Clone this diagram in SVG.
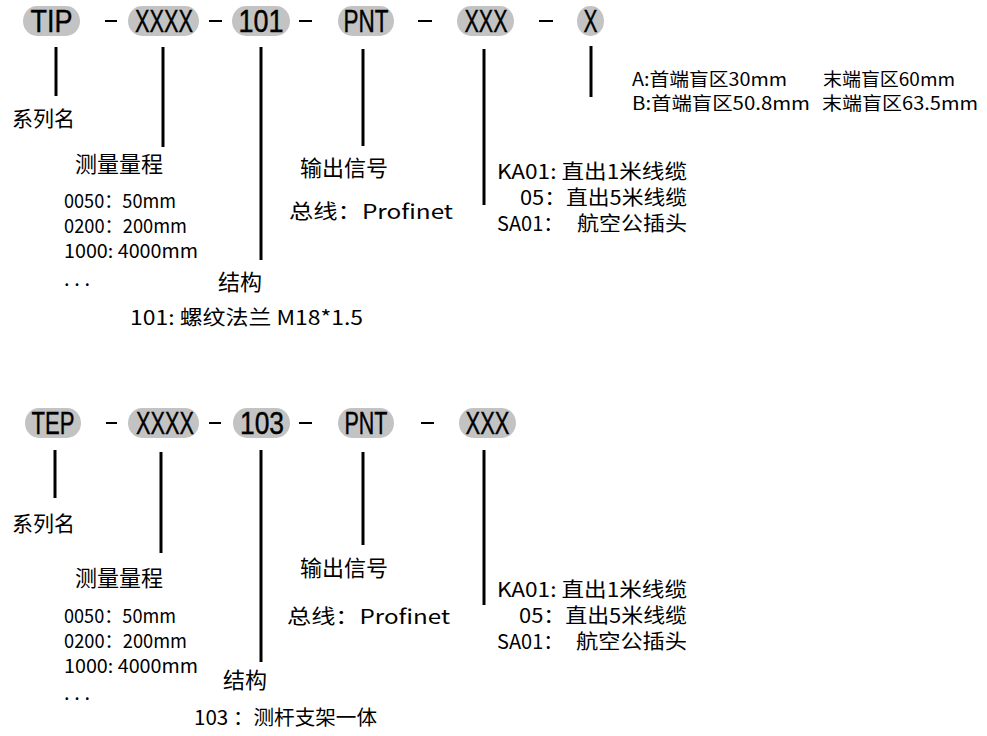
<svg xmlns="http://www.w3.org/2000/svg" width="987" height="736" viewBox="0 0 987 736">
<style>
.pill{fill:#c3c3c3}
.pt{font-family:"Liberation Sans",Arial,sans-serif;font-size:31px;fill:#000;stroke:#000;stroke-width:0.4;text-anchor:middle}
.dash{stroke:#000;stroke-width:2}
.ln{stroke:#000;stroke-width:3;fill:none}
.t{font-family:"Noto Sans CJK SC","Noto Sans",sans-serif;font-size:20px;fill:#000}
.h{font-size:22px}
.s{font-size:19px}
.ab{font-size:18px}
</style>
<rect width="987" height="736" fill="#fff"/>
<g id="top-code">
  <g id="n-tip"><rect class="pill" x="23" y="6" width="57" height="30" rx="14" ry="15"/><text class="pt" x="51.5" y="32" textLength="42" lengthAdjust="spacingAndGlyphs">TIP</text></g>
  <line class="dash" x1="105" y1="21" x2="117" y2="21"/>
  <g id="n-xxxx1"><rect class="pill" x="128" y="6" width="71" height="30" rx="14" ry="15"/><text class="pt" x="164" y="32" textLength="58" lengthAdjust="spacingAndGlyphs">XXXX</text></g>
  <line class="dash" x1="209" y1="21" x2="222" y2="21"/>
  <g id="n-101"><rect class="pill" x="232" y="6" width="58" height="30" rx="14" ry="15"/><text class="pt" x="261" y="32" textLength="45" lengthAdjust="spacingAndGlyphs">101</text></g>
  <line class="dash" x1="299" y1="21" x2="312" y2="21"/>
  <g id="n-pnt1"><rect class="pill" x="338" y="6" width="56" height="30" rx="14" ry="15"/><text class="pt" x="366" y="32" textLength="45" lengthAdjust="spacingAndGlyphs">PNT</text></g>
  <line class="dash" x1="418" y1="21" x2="432" y2="21"/>
  <g id="n-xxx1"><rect class="pill" x="457" y="6" width="57" height="30" rx="14" ry="15"/><text class="pt" x="486" y="32" textLength="43" lengthAdjust="spacingAndGlyphs">XXX</text></g>
  <line class="dash" x1="539" y1="21" x2="553" y2="21"/>
  <g id="n-x"><rect class="pill" x="577" y="6" width="27" height="30" rx="13" ry="15"/><text class="pt" x="590.5" y="32" textLength="14" lengthAdjust="spacingAndGlyphs">X</text></g>
</g>
<g id="connectors">
  <line class="ln" x1="56" y1="47" x2="56" y2="96"/>
  <line class="ln" x1="163" y1="47" x2="163" y2="147"/>
  <line class="ln" x1="261" y1="47" x2="261" y2="260"/>
  <line class="ln" x1="363" y1="49" x2="363" y2="146"/>
  <line class="ln" x1="484" y1="49" x2="484" y2="205"/>
  <line class="ln" x1="591" y1="46" x2="591" y2="97"/>
  <line class="ln" x1="55" y1="450" x2="55" y2="498"/>
  <line class="ln" x1="161" y1="452" x2="161" y2="553"/>
  <line class="ln" x1="261" y1="450" x2="261" y2="662"/>
  <line class="ln" x1="363" y1="452" x2="363" y2="545"/>
  <line class="ln" x1="484" y1="450" x2="484" y2="605"/>
</g>
<g id="top-labels">
  <text class="t" x="12" y="126" textLength="63" lengthAdjust="spacingAndGlyphs" style="font-size:21px">系列名</text>
  <text class="t h" x="75" y="172" textLength="88" lengthAdjust="spacingAndGlyphs">测量量程</text>
  <text class="t s" x="64" y="208" textLength="112" lengthAdjust="spacingAndGlyphs">0050：50mm</text>
  <text class="t s" x="64" y="233" textLength="123" lengthAdjust="spacingAndGlyphs">0200：200mm</text>
  <text class="t s" x="64" y="258" textLength="134" lengthAdjust="spacingAndGlyphs">1000: 4000mm</text>
  <text class="t" x="64" y="286" textLength="26" lengthAdjust="spacing">...</text>
  <text class="t h" x="218" y="290" textLength="44" lengthAdjust="spacingAndGlyphs">结构</text>
  <text class="t" x="130" y="325" textLength="233" lengthAdjust="spacingAndGlyphs">101: 螺纹法兰 M18*1.5</text>
  <text class="t h" x="300" y="176" textLength="88" lengthAdjust="spacingAndGlyphs">输出信号</text>
  <text class="t" x="289" y="219" textLength="164" lengthAdjust="spacingAndGlyphs">总线：Profinet</text>
  <text class="t" x="497" y="179" textLength="190" lengthAdjust="spacingAndGlyphs">KA01: 直出1米线缆</text>
  <text class="t" x="520" y="205" textLength="167" lengthAdjust="spacingAndGlyphs">05：直出5米线缆</text>
  <text class="t" y="231"><tspan x="497">SA01：</tspan><tspan x="577" textLength="110" lengthAdjust="spacingAndGlyphs">航空公插头</tspan></text>
  <text class="t ab" y="86"><tspan x="632" textLength="155" lengthAdjust="spacingAndGlyphs">A:首端盲区30mm</tspan><tspan x="823" textLength="132" lengthAdjust="spacingAndGlyphs">末端盲区60mm</tspan></text>
  <text class="t ab" y="110"><tspan x="632" textLength="178" lengthAdjust="spacingAndGlyphs">B:首端盲区50.8mm</tspan><tspan x="822" textLength="156" lengthAdjust="spacingAndGlyphs">末端盲区63.5mm</tspan></text>
</g>
<g id="bottom-code">
  <g id="n-tep"><rect class="pill" x="25" y="408" width="56" height="30" rx="14" ry="15"/><text class="pt" x="53" y="434" textLength="43" lengthAdjust="spacingAndGlyphs">TEP</text></g>
  <line class="dash" x1="106" y1="423" x2="117" y2="423"/>
  <g id="n-xxxx2"><rect class="pill" x="128" y="408" width="71" height="30" rx="14" ry="15"/><text class="pt" x="165" y="434" textLength="58" lengthAdjust="spacingAndGlyphs">XXXX</text></g>
  <line class="dash" x1="209" y1="423" x2="221" y2="423"/>
  <g id="n-103"><rect class="pill" x="233" y="408" width="57" height="30" rx="14" ry="15"/><text class="pt" x="262" y="434" textLength="44" lengthAdjust="spacingAndGlyphs">103</text></g>
  <line class="dash" x1="299" y1="423" x2="312" y2="423"/>
  <g id="n-pnt2"><rect class="pill" x="338" y="408" width="56" height="30" rx="14" ry="15"/><text class="pt" x="366" y="434" textLength="43" lengthAdjust="spacingAndGlyphs">PNT</text></g>
  <line class="dash" x1="421" y1="423" x2="434" y2="423"/>
  <g id="n-xxx2"><rect class="pill" x="459" y="408" width="57" height="30" rx="14" ry="15"/><text class="pt" x="487.5" y="434" textLength="44" lengthAdjust="spacingAndGlyphs">XXX</text></g>
</g>
<g id="bottom-labels">
  <text class="t" x="12" y="531" textLength="63" lengthAdjust="spacingAndGlyphs" style="font-size:21px">系列名</text>
  <text class="t h" x="75" y="586" textLength="88" lengthAdjust="spacingAndGlyphs">测量量程</text>
  <text class="t s" x="64" y="623" textLength="112" lengthAdjust="spacingAndGlyphs">0050：50mm</text>
  <text class="t s" x="64" y="648" textLength="123" lengthAdjust="spacingAndGlyphs">0200：200mm</text>
  <text class="t s" x="64" y="673" textLength="134" lengthAdjust="spacingAndGlyphs">1000: 4000mm</text>
  <text class="t" x="64" y="700" textLength="26" lengthAdjust="spacing">...</text>
  <text class="t h" x="223" y="688" textLength="44" lengthAdjust="spacingAndGlyphs">结构</text>
  <text class="t" x="194" y="725" textLength="183" lengthAdjust="spacingAndGlyphs">103 ：测杆支架一体</text>
  <text class="t h" x="300" y="576" textLength="88" lengthAdjust="spacingAndGlyphs">输出信号</text>
  <text class="t" x="287" y="624" textLength="163" lengthAdjust="spacingAndGlyphs">总线：Profinet</text>
  <text class="t" x="497" y="597" textLength="190" lengthAdjust="spacingAndGlyphs">KA01: 直出1米线缆</text>
  <text class="t" x="519" y="623" textLength="168" lengthAdjust="spacingAndGlyphs">05：直出5米线缆</text>
  <text class="t" y="649"><tspan x="497">SA01：</tspan><tspan x="576" textLength="111" lengthAdjust="spacingAndGlyphs">航空公插头</tspan></text>
</g>
</svg>
